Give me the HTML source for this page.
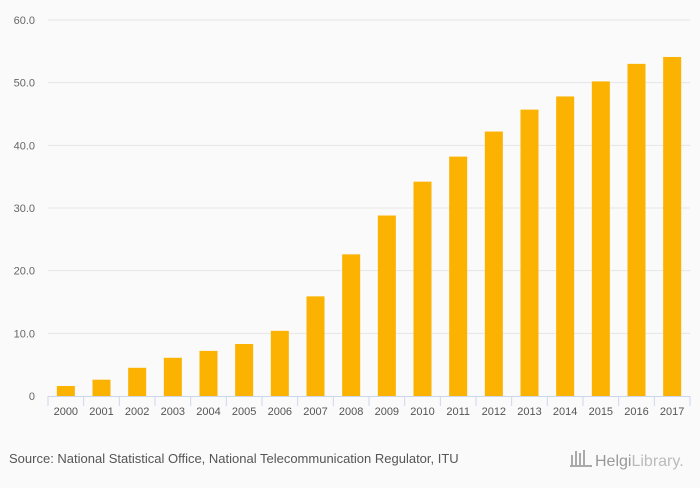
<!DOCTYPE html>
<html><head><meta charset="utf-8"><style>
body{margin:0;background:#fafafa;font-family:"Liberation Sans",sans-serif}
svg text{font-family:"Liberation Sans",sans-serif}
</style></head><body>
<svg id="c" width="700" height="483" xmlns="http://www.w3.org/2000/svg">
<rect width="700" height="483" fill="#fafafa"/>
<g id="grid"></g><g id="bars"></g><g id="xaxis"></g>
<text x="9" y="463" font-size="13" fill="#555">Source: National Statistical Office, National Telecommunication Regulator, ITU</text>
<g>
<g fill="#aaa"><rect x="571" y="455" width="2" height="11"/><rect x="575" y="451" width="2" height="15"/><rect x="579" y="453" width="2" height="13"/><rect x="583" y="450" width="2" height="16"/><rect x="570" y="465" width="22" height="2"/></g>
<text x="595" y="466" font-size="16" fill="#999" font-family="Liberation Serif">Helgi<tspan fill="#bbb">Library.</tspan></text>
</g>
</svg>
<script>
const categories=["2000","2001","2002","2003","2004","2005","2006","2007","2008","2009","2010","2011","2012","2013","2014","2015","2016","2017"];
const values=[1.6,2.6,4.5,6.1,7.2,8.3,10.4,15.9,22.6,28.8,34.2,38.2,42.2,45.7,47.8,50.2,53.0,54.1];
const yTicks=[0,10,20,30,40,50,60];
const yTickLabels=["0","10.0","20.0","30.0","40.0","50.0","60.0"];
const NS="http://www.w3.org/2000/svg";
const x0=48,x1=690,yTop=20,yBot=396,yMax=60;
const step=(x1-x0)/categories.length;
const y=v=>yBot-(v/yMax)*(yBot-yTop);
const xc=i=>x0+step*(i+0.5);
function mk(t,a,p){const e=document.createElementNS(NS,t);for(const k in a)e.setAttribute(k,a[k]);p.appendChild(e);return e;}
const grid=document.getElementById('grid'),bars=document.getElementById('bars'),xa=document.getElementById('xaxis');
yTicks.forEach((t,i)=>{
  if(t>0){const l=mk('line',{x1:x0,x2:x1,y1:y(t),y2:y(t),stroke:'#e6e6e6','stroke-width':1},grid);
  
  }
  const tx=mk('text',{x:35,y:y(t)+4,'font-size':11,fill:'#666','text-anchor':'end'},grid);
  tx.textContent=yTickLabels[i];
  
  
});
const ax=mk('line',{x1:x0,x2:x1,y1:yBot+0.5,y2:yBot+0.5,stroke:'#ccd6eb','stroke-width':1},xa);


for(let i=0;i<=categories.length;i++){
  const tk=mk('line',{x1:x0+step*i,x2:x0+step*i,y1:yBot,y2:yBot+10,stroke:'#ccd6eb'},xa);
  
  
}
const bw=18;
categories.forEach((c,i)=>{
  const r=mk('rect',{x:xc(i)-bw/2,y:y(values[i]),width:bw,height:yBot-y(values[i]),fill:'#fbb200'},bars);
  
  
  const t=mk('text',{x:xc(i),y:415,'font-size':11,fill:'#555','text-anchor':'middle'},xa);
  t.textContent=c;
  
  
});
</script>
</body></html>
